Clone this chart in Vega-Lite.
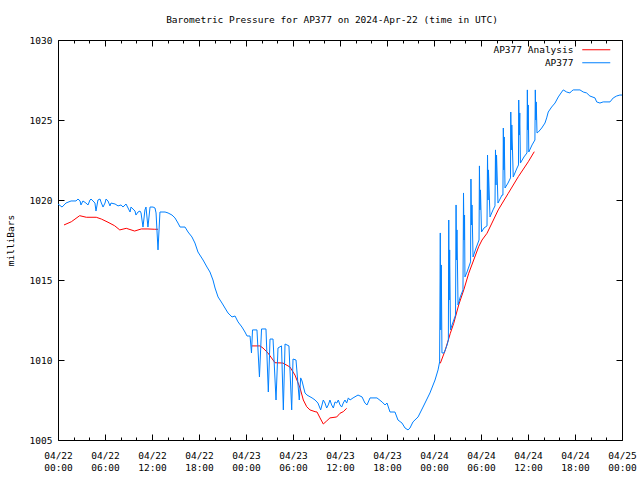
{
  "$schema": "https://vega.github.io/schema/vega-lite/v6.json",
  "width": 564,
  "height": 400,
  "autosize": {"type": "none"},
  "padding": {"left": 58, "top": 40, "right": 18, "bottom": 40},
  "background": "white",
  "title": {"text": "Barometric Pressure for AP377 on 2024-Apr-22 (time in UTC)", "font": "DejaVu Sans Mono", "fontSize": 9.5, "fontWeight": "normal", "color": "black", "offset": 11, "dx": -8, "anchor": "middle"},
  "config": {
    "view": {"stroke": "black", "strokeWidth": 1},
    "axis": {"grid": false, "domain": false, "labelFont": "DejaVu Sans Mono", "labelFontSize": 9.5, "labelColor": "black", "tickColor": "black", "tickWidth": 1, "titleFont": "DejaVu Sans Mono", "titleFontSize": 9.5, "titleFontWeight": "normal", "titleColor": "black"},
    "legend": {"labelFont": "DejaVu Sans Mono", "labelFontSize": 9.5, "labelColor": "black"}
  },
  "resolve": {"axis": {"x": "independent", "y": "independent"}},
  "datasets": {
    "analysis": [
      {"t": "2024-04-22T00:46:00Z", "p": 1018.44, "s": "AP377 Analysis", "seg": 1},
      {"t": "2024-04-22T01:42:00Z", "p": 1018.64, "s": "AP377 Analysis", "seg": 1},
      {"t": "2024-04-22T02:46:00Z", "p": 1019.02, "s": "AP377 Analysis", "seg": 1},
      {"t": "2024-04-22T03:37:00Z", "p": 1018.92, "s": "AP377 Analysis", "seg": 1},
      {"t": "2024-04-22T04:53:00Z", "p": 1018.92, "s": "AP377 Analysis", "seg": 1},
      {"t": "2024-04-22T05:32:00Z", "p": 1018.81, "s": "AP377 Analysis", "seg": 1},
      {"t": "2024-04-22T06:23:00Z", "p": 1018.61, "s": "AP377 Analysis", "seg": 1},
      {"t": "2024-04-22T07:14:00Z", "p": 1018.39, "s": "AP377 Analysis", "seg": 1},
      {"t": "2024-04-22T07:53:00Z", "p": 1018.13, "s": "AP377 Analysis", "seg": 1},
      {"t": "2024-04-22T08:43:00Z", "p": 1018.23, "s": "AP377 Analysis", "seg": 1},
      {"t": "2024-04-22T09:47:00Z", "p": 1018.06, "s": "AP377 Analysis", "seg": 1},
      {"t": "2024-04-22T10:38:00Z", "p": 1018.19, "s": "AP377 Analysis", "seg": 1},
      {"t": "2024-04-22T11:29:00Z", "p": 1018.19, "s": "AP377 Analysis", "seg": 1},
      {"t": "2024-04-22T12:21:00Z", "p": 1018.17, "s": "AP377 Analysis", "seg": 1},
      {"t": "2024-04-22T12:46:00Z", "p": 1018.17, "s": "AP377 Analysis", "seg": 1},
      {"t": "2024-04-23T00:44:00Z", "p": 1010.88, "s": "AP377 Analysis", "seg": 2},
      {"t": "2024-04-23T01:47:00Z", "p": 1010.88, "s": "AP377 Analysis", "seg": 2},
      {"t": "2024-04-23T02:10:00Z", "p": 1010.75, "s": "AP377 Analysis", "seg": 2},
      {"t": "2024-04-23T02:48:00Z", "p": 1010.44, "s": "AP377 Analysis", "seg": 2},
      {"t": "2024-04-23T03:42:00Z", "p": 1009.83, "s": "AP377 Analysis", "seg": 2},
      {"t": "2024-04-23T04:43:00Z", "p": 1009.81, "s": "AP377 Analysis", "seg": 2},
      {"t": "2024-04-23T05:37:00Z", "p": 1009.56, "s": "AP377 Analysis", "seg": 2},
      {"t": "2024-04-23T06:15:00Z", "p": 1009.06, "s": "AP377 Analysis", "seg": 2},
      {"t": "2024-04-23T06:54:00Z", "p": 1008.25, "s": "AP377 Analysis", "seg": 2},
      {"t": "2024-04-23T07:19:00Z", "p": 1007.5, "s": "AP377 Analysis", "seg": 2},
      {"t": "2024-04-23T07:45:00Z", "p": 1007.08, "s": "AP377 Analysis", "seg": 2},
      {"t": "2024-04-23T08:10:00Z", "p": 1006.88, "s": "AP377 Analysis", "seg": 2},
      {"t": "2024-04-23T08:49:00Z", "p": 1006.77, "s": "AP377 Analysis", "seg": 2},
      {"t": "2024-04-23T09:04:00Z", "p": 1006.75, "s": "AP377 Analysis", "seg": 2},
      {"t": "2024-04-23T09:27:00Z", "p": 1006.38, "s": "AP377 Analysis", "seg": 2},
      {"t": "2024-04-23T09:52:00Z", "p": 1006.0, "s": "AP377 Analysis", "seg": 2},
      {"t": "2024-04-23T10:18:00Z", "p": 1006.19, "s": "AP377 Analysis", "seg": 2},
      {"t": "2024-04-23T10:43:00Z", "p": 1006.38, "s": "AP377 Analysis", "seg": 2},
      {"t": "2024-04-23T11:35:00Z", "p": 1006.44, "s": "AP377 Analysis", "seg": 2},
      {"t": "2024-04-23T12:00:00Z", "p": 1006.67, "s": "AP377 Analysis", "seg": 2},
      {"t": "2024-04-23T12:25:00Z", "p": 1006.77, "s": "AP377 Analysis", "seg": 2},
      {"t": "2024-04-23T12:51:00Z", "p": 1006.98, "s": "AP377 Analysis", "seg": 2},
      {"t": "2024-04-24T00:48:00Z", "p": 1009.79, "s": "AP377 Analysis", "seg": 3},
      {"t": "2024-04-24T01:27:00Z", "p": 1010.63, "s": "AP377 Analysis", "seg": 3},
      {"t": "2024-04-24T02:05:00Z", "p": 1011.67, "s": "AP377 Analysis", "seg": 3},
      {"t": "2024-04-24T02:31:00Z", "p": 1012.29, "s": "AP377 Analysis", "seg": 3},
      {"t": "2024-04-24T03:09:00Z", "p": 1013.44, "s": "AP377 Analysis", "seg": 3},
      {"t": "2024-04-24T03:48:00Z", "p": 1014.38, "s": "AP377 Analysis", "seg": 3},
      {"t": "2024-04-24T04:26:00Z", "p": 1015.42, "s": "AP377 Analysis", "seg": 3},
      {"t": "2024-04-24T05:04:00Z", "p": 1016.25, "s": "AP377 Analysis", "seg": 3},
      {"t": "2024-04-24T05:42:00Z", "p": 1017.08, "s": "AP377 Analysis", "seg": 3},
      {"t": "2024-04-24T06:08:00Z", "p": 1017.5, "s": "AP377 Analysis", "seg": 3},
      {"t": "2024-04-24T06:46:00Z", "p": 1017.92, "s": "AP377 Analysis", "seg": 3},
      {"t": "2024-04-24T07:24:00Z", "p": 1018.56, "s": "AP377 Analysis", "seg": 3},
      {"t": "2024-04-24T08:12:00Z", "p": 1019.38, "s": "AP377 Analysis", "seg": 3},
      {"t": "2024-04-24T09:29:00Z", "p": 1020.42, "s": "AP377 Analysis", "seg": 3},
      {"t": "2024-04-24T10:46:00Z", "p": 1021.46, "s": "AP377 Analysis", "seg": 3},
      {"t": "2024-04-24T12:02:00Z", "p": 1022.39, "s": "AP377 Analysis", "seg": 3},
      {"t": "2024-04-24T12:48:00Z", "p": 1023.02, "s": "AP377 Analysis", "seg": 3}
    ],
    "obs": [
      {"t": "2024-04-22T00:00:00Z", "p": 1019.75, "s": "AP377"},
      {"t": "2024-04-22T00:31:00Z", "p": 1019.56, "s": "AP377"},
      {"t": "2024-04-22T01:01:00Z", "p": 1019.81, "s": "AP377"},
      {"t": "2024-04-22T01:40:00Z", "p": 1019.94, "s": "AP377"},
      {"t": "2024-04-22T02:18:00Z", "p": 1019.94, "s": "AP377"},
      {"t": "2024-04-22T02:33:00Z", "p": 1020.06, "s": "AP377"},
      {"t": "2024-04-22T02:49:00Z", "p": 1019.94, "s": "AP377"},
      {"t": "2024-04-22T02:56:00Z", "p": 1019.69, "s": "AP377"},
      {"t": "2024-04-22T03:11:00Z", "p": 1019.94, "s": "AP377"},
      {"t": "2024-04-22T03:34:00Z", "p": 1019.81, "s": "AP377"},
      {"t": "2024-04-22T03:50:00Z", "p": 1019.69, "s": "AP377"},
      {"t": "2024-04-22T04:05:00Z", "p": 1020.0, "s": "AP377"},
      {"t": "2024-04-22T04:13:00Z", "p": 1020.06, "s": "AP377"},
      {"t": "2024-04-22T04:28:00Z", "p": 1019.94, "s": "AP377"},
      {"t": "2024-04-22T04:43:00Z", "p": 1019.81, "s": "AP377"},
      {"t": "2024-04-22T04:51:00Z", "p": 1019.31, "s": "AP377"},
      {"t": "2024-04-22T05:06:00Z", "p": 1020.0, "s": "AP377"},
      {"t": "2024-04-22T05:22:00Z", "p": 1020.06, "s": "AP377"},
      {"t": "2024-04-22T05:29:00Z", "p": 1019.88, "s": "AP377"},
      {"t": "2024-04-22T05:45:00Z", "p": 1019.56, "s": "AP377"},
      {"t": "2024-04-22T06:00:00Z", "p": 1019.81, "s": "AP377"},
      {"t": "2024-04-22T06:08:00Z", "p": 1020.06, "s": "AP377"},
      {"t": "2024-04-22T06:23:00Z", "p": 1019.94, "s": "AP377"},
      {"t": "2024-04-22T06:38:00Z", "p": 1019.63, "s": "AP377"},
      {"t": "2024-04-22T06:46:00Z", "p": 1019.81, "s": "AP377"},
      {"t": "2024-04-22T07:17:00Z", "p": 1019.75, "s": "AP377"},
      {"t": "2024-04-22T07:40:00Z", "p": 1019.63, "s": "AP377"},
      {"t": "2024-04-22T08:03:00Z", "p": 1019.69, "s": "AP377"},
      {"t": "2024-04-22T08:18:00Z", "p": 1019.56, "s": "AP377"},
      {"t": "2024-04-22T08:41:00Z", "p": 1019.75, "s": "AP377"},
      {"t": "2024-04-22T09:12:00Z", "p": 1019.25, "s": "AP377"},
      {"t": "2024-04-22T09:19:00Z", "p": 1019.56, "s": "AP377"},
      {"t": "2024-04-22T09:50:00Z", "p": 1019.31, "s": "AP377"},
      {"t": "2024-04-22T09:57:00Z", "p": 1019.06, "s": "AP377"},
      {"t": "2024-04-22T10:13:00Z", "p": 1019.25, "s": "AP377"},
      {"t": "2024-04-22T10:28:00Z", "p": 1019.31, "s": "AP377"},
      {"t": "2024-04-22T10:36:00Z", "p": 1019.19, "s": "AP377"},
      {"t": "2024-04-22T10:51:00Z", "p": 1018.31, "s": "AP377"},
      {"t": "2024-04-22T11:06:00Z", "p": 1019.38, "s": "AP377"},
      {"t": "2024-04-22T11:14:00Z", "p": 1019.56, "s": "AP377"},
      {"t": "2024-04-22T11:29:00Z", "p": 1018.31, "s": "AP377"},
      {"t": "2024-04-22T11:45:00Z", "p": 1019.56, "s": "AP377"},
      {"t": "2024-04-22T11:52:00Z", "p": 1019.56, "s": "AP377"},
      {"t": "2024-04-22T12:08:00Z", "p": 1019.56, "s": "AP377"},
      {"t": "2024-04-22T12:23:00Z", "p": 1019.5, "s": "AP377"},
      {"t": "2024-04-22T12:31:00Z", "p": 1019.19, "s": "AP377"},
      {"t": "2024-04-22T12:46:00Z", "p": 1016.88, "s": "AP377"},
      {"t": "2024-04-22T13:01:00Z", "p": 1019.25, "s": "AP377"},
      {"t": "2024-04-22T13:40:00Z", "p": 1019.25, "s": "AP377"},
      {"t": "2024-04-22T14:03:00Z", "p": 1019.19, "s": "AP377"},
      {"t": "2024-04-22T14:33:00Z", "p": 1019.06, "s": "AP377"},
      {"t": "2024-04-22T14:56:00Z", "p": 1018.88, "s": "AP377"},
      {"t": "2024-04-22T15:19:00Z", "p": 1018.56, "s": "AP377"},
      {"t": "2024-04-22T15:35:00Z", "p": 1018.31, "s": "AP377"},
      {"t": "2024-04-22T16:13:00Z", "p": 1018.31, "s": "AP377"},
      {"t": "2024-04-22T16:36:00Z", "p": 1018.0, "s": "AP377"},
      {"t": "2024-04-22T17:06:00Z", "p": 1017.69, "s": "AP377"},
      {"t": "2024-04-22T17:29:00Z", "p": 1017.31, "s": "AP377"},
      {"t": "2024-04-22T17:52:00Z", "p": 1016.75, "s": "AP377"},
      {"t": "2024-04-22T18:31:00Z", "p": 1016.25, "s": "AP377"},
      {"t": "2024-04-22T19:01:00Z", "p": 1015.81, "s": "AP377"},
      {"t": "2024-04-22T19:24:00Z", "p": 1015.5, "s": "AP377"},
      {"t": "2024-04-22T19:47:00Z", "p": 1015.0, "s": "AP377"},
      {"t": "2024-04-22T20:03:00Z", "p": 1014.5, "s": "AP377"},
      {"t": "2024-04-22T20:26:00Z", "p": 1013.94, "s": "AP377"},
      {"t": "2024-04-22T20:56:00Z", "p": 1013.56, "s": "AP377"},
      {"t": "2024-04-22T21:19:00Z", "p": 1013.25, "s": "AP377"},
      {"t": "2024-04-22T21:42:00Z", "p": 1012.94, "s": "AP377"},
      {"t": "2024-04-22T22:13:00Z", "p": 1012.69, "s": "AP377"},
      {"t": "2024-04-22T22:36:00Z", "p": 1012.75, "s": "AP377"},
      {"t": "2024-04-22T22:59:00Z", "p": 1012.38, "s": "AP377"},
      {"t": "2024-04-22T23:29:00Z", "p": 1012.06, "s": "AP377"},
      {"t": "2024-04-22T23:52:00Z", "p": 1011.75, "s": "AP377"},
      {"t": "2024-04-23T00:08:00Z", "p": 1011.5, "s": "AP377"},
      {"t": "2024-04-23T00:31:00Z", "p": 1011.5, "s": "AP377"},
      {"t": "2024-04-23T00:42:00Z", "p": 1010.44, "s": "AP377"},
      {"t": "2024-04-23T00:50:00Z", "p": 1011.88, "s": "AP377"},
      {"t": "2024-04-23T01:24:00Z", "p": 1011.88, "s": "AP377"},
      {"t": "2024-04-23T01:43:00Z", "p": 1008.94, "s": "AP377"},
      {"t": "2024-04-23T01:59:00Z", "p": 1011.94, "s": "AP377"},
      {"t": "2024-04-23T02:33:00Z", "p": 1011.94, "s": "AP377"},
      {"t": "2024-04-23T02:51:00Z", "p": 1008.0, "s": "AP377"},
      {"t": "2024-04-23T03:04:00Z", "p": 1011.31, "s": "AP377"},
      {"t": "2024-04-23T03:27:00Z", "p": 1011.31, "s": "AP377"},
      {"t": "2024-04-23T03:50:00Z", "p": 1007.5, "s": "AP377"},
      {"t": "2024-04-23T04:05:00Z", "p": 1010.75, "s": "AP377"},
      {"t": "2024-04-23T04:32:00Z", "p": 1010.88, "s": "AP377"},
      {"t": "2024-04-23T04:46:00Z", "p": 1006.88, "s": "AP377"},
      {"t": "2024-04-23T04:59:00Z", "p": 1011.0, "s": "AP377"},
      {"t": "2024-04-23T05:29:00Z", "p": 1010.88, "s": "AP377"},
      {"t": "2024-04-23T05:50:00Z", "p": 1006.88, "s": "AP377"},
      {"t": "2024-04-23T06:00:00Z", "p": 1010.06, "s": "AP377"},
      {"t": "2024-04-23T06:23:00Z", "p": 1010.0, "s": "AP377"},
      {"t": "2024-04-23T06:48:00Z", "p": 1007.5, "s": "AP377"},
      {"t": "2024-04-23T06:59:00Z", "p": 1008.88, "s": "AP377"},
      {"t": "2024-04-23T07:09:00Z", "p": 1008.69, "s": "AP377"},
      {"t": "2024-04-23T07:32:00Z", "p": 1007.94, "s": "AP377"},
      {"t": "2024-04-23T07:47:00Z", "p": 1007.81, "s": "AP377"},
      {"t": "2024-04-23T08:26:00Z", "p": 1007.63, "s": "AP377"},
      {"t": "2024-04-23T08:49:00Z", "p": 1007.5, "s": "AP377"},
      {"t": "2024-04-23T09:11:00Z", "p": 1007.31, "s": "AP377"},
      {"t": "2024-04-23T09:32:00Z", "p": 1006.88, "s": "AP377"},
      {"t": "2024-04-23T09:52:00Z", "p": 1007.5, "s": "AP377"},
      {"t": "2024-04-23T10:05:00Z", "p": 1007.31, "s": "AP377"},
      {"t": "2024-04-23T10:18:00Z", "p": 1007.0, "s": "AP377"},
      {"t": "2024-04-23T10:30:00Z", "p": 1007.19, "s": "AP377"},
      {"t": "2024-04-23T10:43:00Z", "p": 1007.5, "s": "AP377"},
      {"t": "2024-04-23T10:56:00Z", "p": 1007.19, "s": "AP377"},
      {"t": "2024-04-23T11:09:00Z", "p": 1007.0, "s": "AP377"},
      {"t": "2024-04-23T11:22:00Z", "p": 1007.38, "s": "AP377"},
      {"t": "2024-04-23T11:35:00Z", "p": 1007.31, "s": "AP377"},
      {"t": "2024-04-23T11:47:00Z", "p": 1007.5, "s": "AP377"},
      {"t": "2024-04-23T12:00:00Z", "p": 1007.19, "s": "AP377"},
      {"t": "2024-04-23T12:13:00Z", "p": 1007.06, "s": "AP377"},
      {"t": "2024-04-23T12:25:00Z", "p": 1007.31, "s": "AP377"},
      {"t": "2024-04-23T12:38:00Z", "p": 1007.5, "s": "AP377"},
      {"t": "2024-04-23T12:51:00Z", "p": 1007.31, "s": "AP377"},
      {"t": "2024-04-23T13:04:00Z", "p": 1007.63, "s": "AP377"},
      {"t": "2024-04-23T13:17:00Z", "p": 1007.5, "s": "AP377"},
      {"t": "2024-04-23T13:40:00Z", "p": 1007.63, "s": "AP377"},
      {"t": "2024-04-23T14:18:00Z", "p": 1007.81, "s": "AP377"},
      {"t": "2024-04-23T14:49:00Z", "p": 1007.69, "s": "AP377"},
      {"t": "2024-04-23T15:11:00Z", "p": 1007.31, "s": "AP377"},
      {"t": "2024-04-23T15:27:00Z", "p": 1007.19, "s": "AP377"},
      {"t": "2024-04-23T15:50:00Z", "p": 1007.63, "s": "AP377"},
      {"t": "2024-04-23T16:43:00Z", "p": 1007.63, "s": "AP377"},
      {"t": "2024-04-23T17:22:00Z", "p": 1007.38, "s": "AP377"},
      {"t": "2024-04-23T17:45:00Z", "p": 1007.19, "s": "AP377"},
      {"t": "2024-04-23T18:00:00Z", "p": 1007.31, "s": "AP377"},
      {"t": "2024-04-23T18:23:00Z", "p": 1006.75, "s": "AP377"},
      {"t": "2024-04-23T19:01:00Z", "p": 1006.75, "s": "AP377"},
      {"t": "2024-04-23T19:24:00Z", "p": 1006.25, "s": "AP377"},
      {"t": "2024-04-23T19:55:00Z", "p": 1006.06, "s": "AP377"},
      {"t": "2024-04-23T20:18:00Z", "p": 1005.75, "s": "AP377"},
      {"t": "2024-04-23T20:41:00Z", "p": 1005.63, "s": "AP377"},
      {"t": "2024-04-23T20:56:00Z", "p": 1005.75, "s": "AP377"},
      {"t": "2024-04-23T21:19:00Z", "p": 1006.13, "s": "AP377"},
      {"t": "2024-04-23T21:58:00Z", "p": 1006.44, "s": "AP377"},
      {"t": "2024-04-23T22:36:00Z", "p": 1007.06, "s": "AP377"},
      {"t": "2024-04-23T23:29:00Z", "p": 1007.94, "s": "AP377"},
      {"t": "2024-04-24T00:08:00Z", "p": 1008.75, "s": "AP377"},
      {"t": "2024-04-24T00:31:00Z", "p": 1009.38, "s": "AP377"},
      {"t": "2024-04-24T00:43:00Z", "p": 1009.88, "s": "AP377"},
      {"t": "2024-04-24T00:48:00Z", "p": 1017.94, "s": "AP377"},
      {"t": "2024-04-24T00:52:00Z", "p": 1011.88, "s": "AP377"},
      {"t": "2024-04-24T00:56:00Z", "p": 1015.94, "s": "AP377"},
      {"t": "2024-04-24T01:01:00Z", "p": 1010.44, "s": "AP377"},
      {"t": "2024-04-24T01:17:00Z", "p": 1010.44, "s": "AP377"},
      {"t": "2024-04-24T01:40:00Z", "p": 1010.94, "s": "AP377"},
      {"t": "2024-04-24T01:50:00Z", "p": 1011.25, "s": "AP377"},
      {"t": "2024-04-24T01:53:00Z", "p": 1018.75, "s": "AP377"},
      {"t": "2024-04-24T01:56:00Z", "p": 1013.75, "s": "AP377"},
      {"t": "2024-04-24T02:00:00Z", "p": 1016.88, "s": "AP377"},
      {"t": "2024-04-24T02:06:00Z", "p": 1011.88, "s": "AP377"},
      {"t": "2024-04-24T02:18:00Z", "p": 1012.19, "s": "AP377"},
      {"t": "2024-04-24T02:45:00Z", "p": 1012.81, "s": "AP377"},
      {"t": "2024-04-24T02:49:00Z", "p": 1019.69, "s": "AP377"},
      {"t": "2024-04-24T02:52:00Z", "p": 1016.25, "s": "AP377"},
      {"t": "2024-04-24T02:56:00Z", "p": 1018.13, "s": "AP377"},
      {"t": "2024-04-24T03:04:00Z", "p": 1013.44, "s": "AP377"},
      {"t": "2024-04-24T03:21:00Z", "p": 1013.94, "s": "AP377"},
      {"t": "2024-04-24T03:42:00Z", "p": 1014.38, "s": "AP377"},
      {"t": "2024-04-24T03:46:00Z", "p": 1020.44, "s": "AP377"},
      {"t": "2024-04-24T03:50:00Z", "p": 1017.5, "s": "AP377"},
      {"t": "2024-04-24T03:54:00Z", "p": 1019.06, "s": "AP377"},
      {"t": "2024-04-24T03:57:00Z", "p": 1015.19, "s": "AP377"},
      {"t": "2024-04-24T04:13:00Z", "p": 1015.5, "s": "AP377"},
      {"t": "2024-04-24T04:40:00Z", "p": 1016.13, "s": "AP377"},
      {"t": "2024-04-24T04:43:00Z", "p": 1021.31, "s": "AP377"},
      {"t": "2024-04-24T04:47:00Z", "p": 1018.44, "s": "AP377"},
      {"t": "2024-04-24T04:51:00Z", "p": 1019.69, "s": "AP377"},
      {"t": "2024-04-24T04:59:00Z", "p": 1016.44, "s": "AP377"},
      {"t": "2024-04-24T05:22:00Z", "p": 1017.0, "s": "AP377"},
      {"t": "2024-04-24T05:45:00Z", "p": 1017.5, "s": "AP377"},
      {"t": "2024-04-24T05:48:00Z", "p": 1022.13, "s": "AP377"},
      {"t": "2024-04-24T05:52:00Z", "p": 1019.38, "s": "AP377"},
      {"t": "2024-04-24T05:56:00Z", "p": 1020.63, "s": "AP377"},
      {"t": "2024-04-24T06:04:00Z", "p": 1018.0, "s": "AP377"},
      {"t": "2024-04-24T06:23:00Z", "p": 1018.25, "s": "AP377"},
      {"t": "2024-04-24T06:46:00Z", "p": 1018.38, "s": "AP377"},
      {"t": "2024-04-24T06:50:00Z", "p": 1022.81, "s": "AP377"},
      {"t": "2024-04-24T06:54:00Z", "p": 1020.0, "s": "AP377"},
      {"t": "2024-04-24T06:57:00Z", "p": 1021.88, "s": "AP377"},
      {"t": "2024-04-24T07:09:00Z", "p": 1018.94, "s": "AP377"},
      {"t": "2024-04-24T07:32:00Z", "p": 1019.38, "s": "AP377"},
      {"t": "2024-04-24T07:47:00Z", "p": 1019.63, "s": "AP377"},
      {"t": "2024-04-24T07:51:00Z", "p": 1023.13, "s": "AP377"},
      {"t": "2024-04-24T07:55:00Z", "p": 1020.94, "s": "AP377"},
      {"t": "2024-04-24T07:59:00Z", "p": 1022.81, "s": "AP377"},
      {"t": "2024-04-24T08:10:00Z", "p": 1019.81, "s": "AP377"},
      {"t": "2024-04-24T08:41:00Z", "p": 1020.31, "s": "AP377"},
      {"t": "2024-04-24T08:48:00Z", "p": 1020.31, "s": "AP377"},
      {"t": "2024-04-24T08:51:00Z", "p": 1024.5, "s": "AP377"},
      {"t": "2024-04-24T08:55:00Z", "p": 1021.88, "s": "AP377"},
      {"t": "2024-04-24T08:58:00Z", "p": 1023.94, "s": "AP377"},
      {"t": "2024-04-24T09:04:00Z", "p": 1020.75, "s": "AP377"},
      {"t": "2024-04-24T09:27:00Z", "p": 1021.06, "s": "AP377"},
      {"t": "2024-04-24T09:46:00Z", "p": 1021.38, "s": "AP377"},
      {"t": "2024-04-24T09:48:00Z", "p": 1025.5, "s": "AP377"},
      {"t": "2024-04-24T09:52:00Z", "p": 1023.13, "s": "AP377"},
      {"t": "2024-04-24T09:56:00Z", "p": 1024.69, "s": "AP377"},
      {"t": "2024-04-24T10:07:00Z", "p": 1021.44, "s": "AP377"},
      {"t": "2024-04-24T10:36:00Z", "p": 1022.0, "s": "AP377"},
      {"t": "2024-04-24T10:47:00Z", "p": 1022.19, "s": "AP377"},
      {"t": "2024-04-24T10:49:00Z", "p": 1026.25, "s": "AP377"},
      {"t": "2024-04-24T10:53:00Z", "p": 1024.06, "s": "AP377"},
      {"t": "2024-04-24T10:57:00Z", "p": 1025.44, "s": "AP377"},
      {"t": "2024-04-24T11:02:00Z", "p": 1022.31, "s": "AP377"},
      {"t": "2024-04-24T11:29:00Z", "p": 1022.69, "s": "AP377"},
      {"t": "2024-04-24T11:52:00Z", "p": 1022.94, "s": "AP377"},
      {"t": "2024-04-24T11:55:00Z", "p": 1026.88, "s": "AP377"},
      {"t": "2024-04-24T11:58:00Z", "p": 1024.38, "s": "AP377"},
      {"t": "2024-04-24T12:02:00Z", "p": 1025.94, "s": "AP377"},
      {"t": "2024-04-24T12:06:00Z", "p": 1023.0, "s": "AP377"},
      {"t": "2024-04-24T12:31:00Z", "p": 1023.44, "s": "AP377"},
      {"t": "2024-04-24T12:53:00Z", "p": 1023.75, "s": "AP377"},
      {"t": "2024-04-24T12:56:00Z", "p": 1026.88, "s": "AP377"},
      {"t": "2024-04-24T13:00:00Z", "p": 1025.0, "s": "AP377"},
      {"t": "2024-04-24T13:03:00Z", "p": 1026.13, "s": "AP377"},
      {"t": "2024-04-24T13:09:00Z", "p": 1024.19, "s": "AP377"},
      {"t": "2024-04-24T13:19:00Z", "p": 1024.25, "s": "AP377"},
      {"t": "2024-04-24T13:45:00Z", "p": 1024.5, "s": "AP377"},
      {"t": "2024-04-24T14:10:00Z", "p": 1024.81, "s": "AP377"},
      {"t": "2024-04-24T14:23:00Z", "p": 1025.13, "s": "AP377"},
      {"t": "2024-04-24T14:35:00Z", "p": 1025.5, "s": "AP377"},
      {"t": "2024-04-24T15:01:00Z", "p": 1025.81, "s": "AP377"},
      {"t": "2024-04-24T15:27:00Z", "p": 1026.06, "s": "AP377"},
      {"t": "2024-04-24T15:52:00Z", "p": 1026.44, "s": "AP377"},
      {"t": "2024-04-24T16:18:00Z", "p": 1026.75, "s": "AP377"},
      {"t": "2024-04-24T16:30:00Z", "p": 1026.88, "s": "AP377"},
      {"t": "2024-04-24T16:56:00Z", "p": 1026.75, "s": "AP377"},
      {"t": "2024-04-24T17:21:00Z", "p": 1026.69, "s": "AP377"},
      {"t": "2024-04-24T17:34:00Z", "p": 1026.81, "s": "AP377"},
      {"t": "2024-04-24T17:47:00Z", "p": 1026.88, "s": "AP377"},
      {"t": "2024-04-24T18:38:00Z", "p": 1026.88, "s": "AP377"},
      {"t": "2024-04-24T19:03:00Z", "p": 1026.75, "s": "AP377"},
      {"t": "2024-04-24T19:29:00Z", "p": 1026.69, "s": "AP377"},
      {"t": "2024-04-24T19:54:00Z", "p": 1026.5, "s": "AP377"},
      {"t": "2024-04-24T20:33:00Z", "p": 1026.38, "s": "AP377"},
      {"t": "2024-04-24T20:46:00Z", "p": 1026.13, "s": "AP377"},
      {"t": "2024-04-24T21:11:00Z", "p": 1026.06, "s": "AP377"},
      {"t": "2024-04-24T21:36:00Z", "p": 1026.13, "s": "AP377"},
      {"t": "2024-04-24T22:28:00Z", "p": 1026.13, "s": "AP377"},
      {"t": "2024-04-24T22:53:00Z", "p": 1026.38, "s": "AP377"},
      {"t": "2024-04-24T23:19:00Z", "p": 1026.5, "s": "AP377"},
      {"t": "2024-04-24T23:44:00Z", "p": 1026.56, "s": "AP377"},
      {"t": "2024-04-25T00:00:00Z", "p": 1026.56, "s": "AP377"}
    ]
  },
  "layer": [
    {
      "data": {"name": "analysis"},
      "mark": {"type": "line", "strokeWidth": 1, "clip": true},
      "encoding": {
        "x": {
          "field": "t", "type": "temporal",
          "scale": {"type": "utc", "domain": [1713744000000, 1714003200000]},
          "axis": {
            "orient": "bottom", "title": null,
            "values": [1713744000000, 1713765600000, 1713787200000, 1713808800000, 1713830400000, 1713852000000, 1713873600000, 1713895200000, 1713916800000, 1713938400000, 1713960000000, 1713981600000, 1714003200000],
            "tickSize": -6,
            "labelExpr": "[utcFormat(datum.value, '%m/%d'), utcFormat(datum.value, '%H:%M')]",
            "labelOverlap": false, "labelFlush": false, "labelPadding": 16, "labelLineHeight": 12, "labelBaseline": "top"
          }
        },
        "y": {
          "field": "p", "type": "quantitative",
          "scale": {"domain": [1005, 1030], "nice": false, "zero": false},
          "axis": {"orient": "left", "title": "milliBars", "format": "d", "values": [1005, 1010, 1015, 1020, 1025, 1030], "tickSize": -6, "labelPadding": 12, "titlePadding": 14}
        },
        "color": {
          "field": "s", "type": "nominal",
          "scale": {"domain": ["AP377 Analysis", "AP377"], "range": ["#ff0000", "#0080ff"]},
          "legend": {"title": null, "orient": "none", "legendX": 533.5, "legendY": 5, "symbolType": "M-4,0H4", "symbolSize": 49, "symbolStrokeWidth": 1, "symbolFillColor": "transparent", "labelAlign": "right", "labelOffset": -27.5, "rowPadding": 2, "padding": 0}
        },
        "detail": {"field": "seg", "type": "nominal"}
      }
    },
    {
      "data": {"name": "obs"},
      "mark": {"type": "line", "strokeWidth": 1, "clip": true},
      "encoding": {
        "x": {
          "field": "t", "type": "temporal",
          "axis": {
            "orient": "top", "title": null, "labels": false,
            "values": [1713744000000, 1713765600000, 1713787200000, 1713808800000, 1713830400000, 1713852000000, 1713873600000, 1713895200000, 1713916800000, 1713938400000, 1713960000000, 1713981600000, 1714003200000],
            "tickSize": -6
          }
        },
        "y": {
          "field": "p", "type": "quantitative",
          "axis": {"orient": "right", "title": null, "labels": false, "values": [1005, 1010, 1015, 1020, 1025, 1030], "tickSize": -6}
        },
        "color": {"field": "s", "type": "nominal"}
      }
    },
    {
      "data": {"name": "obs"},
      "mark": {"type": "line", "strokeWidth": 1, "opacity": 0},
      "encoding": {
        "x": {
          "field": "t", "type": "temporal",
          "axis": {
            "orient": "bottom", "title": null, "labels": false, "tickSize": -3,
            "values": [1713751200000, 1713758400000, 1713772800000, 1713780000000, 1713794400000, 1713801600000, 1713816000000, 1713823200000, 1713837600000, 1713844800000, 1713859200000, 1713866400000, 1713880800000, 1713888000000, 1713902400000, 1713909600000, 1713924000000, 1713931200000, 1713945600000, 1713952800000, 1713967200000, 1713974400000, 1713988800000, 1713996000000]
          }
        },
        "y": {"field": "p", "type": "quantitative", "axis": null}
      }
    },
    {
      "data": {"name": "obs"},
      "mark": {"type": "line", "strokeWidth": 1, "opacity": 0},
      "encoding": {
        "x": {
          "field": "t", "type": "temporal",
          "axis": {
            "orient": "top", "title": null, "labels": false, "tickSize": -3,
            "values": [1713751200000, 1713758400000, 1713772800000, 1713780000000, 1713794400000, 1713801600000, 1713816000000, 1713823200000, 1713837600000, 1713844800000, 1713859200000, 1713866400000, 1713880800000, 1713888000000, 1713902400000, 1713909600000, 1713924000000, 1713931200000, 1713945600000, 1713952800000, 1713967200000, 1713974400000, 1713988800000, 1713996000000]
          }
        },
        "y": {"field": "p", "type": "quantitative", "axis": null}
      }
    }
  ]
}
